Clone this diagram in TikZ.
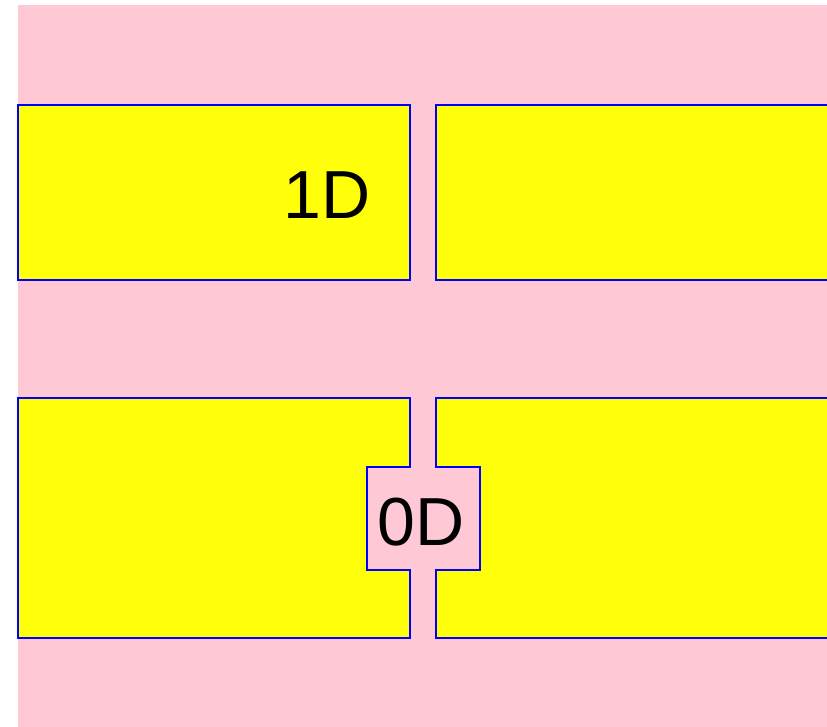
\documentclass[tikz,border=0pt]{standalone}
\usepackage{fontspec}
\setmainfont{Liberation Sans}
\usetikzlibrary{positioning}
\definecolor{bgpink}{RGB}{255,200,213}
\definecolor{padyellow}{RGB}{255,255,10}
\tikzset{pad/.style={draw=blue,fill=padyellow,line width=1.1pt},
  dimlabel/.style={inner sep=0pt,font=\fontsize{51}{60}\selectfont}}

\begin{document}
\begin{tikzpicture}[x=0.75pt,y=-0.75pt]
\useasboundingbox (0,0) rectangle (827,727);
\clip (0,0) rectangle (827,727);
\fill[bgpink] (18,5) rectangle (840,740);
% 1D: two plain pads with a straight gap
\draw[pad] (18,105) rectangle (410,280);
\draw[pad] (436,105) rectangle (840,280);
\node[dimlabel] (oneD) at (327,195) {1D};
% 0D: pads with a notch round the dot
\draw[pad] (18,398) -- (410,398) -- (410,467) -- (367,467) -- (367,570)
  -- (410,570) -- (410,638) -- (18,638) -- cycle;
\draw[pad] (840,398) -- (436,398) -- (436,467) -- (480,467) -- (480,570)
  -- (436,570) -- (436,638) -- (840,638) -- cycle;
\node[dimlabel] (zeroD) at (421,522) {0D};
\end{tikzpicture}
\end{document}
